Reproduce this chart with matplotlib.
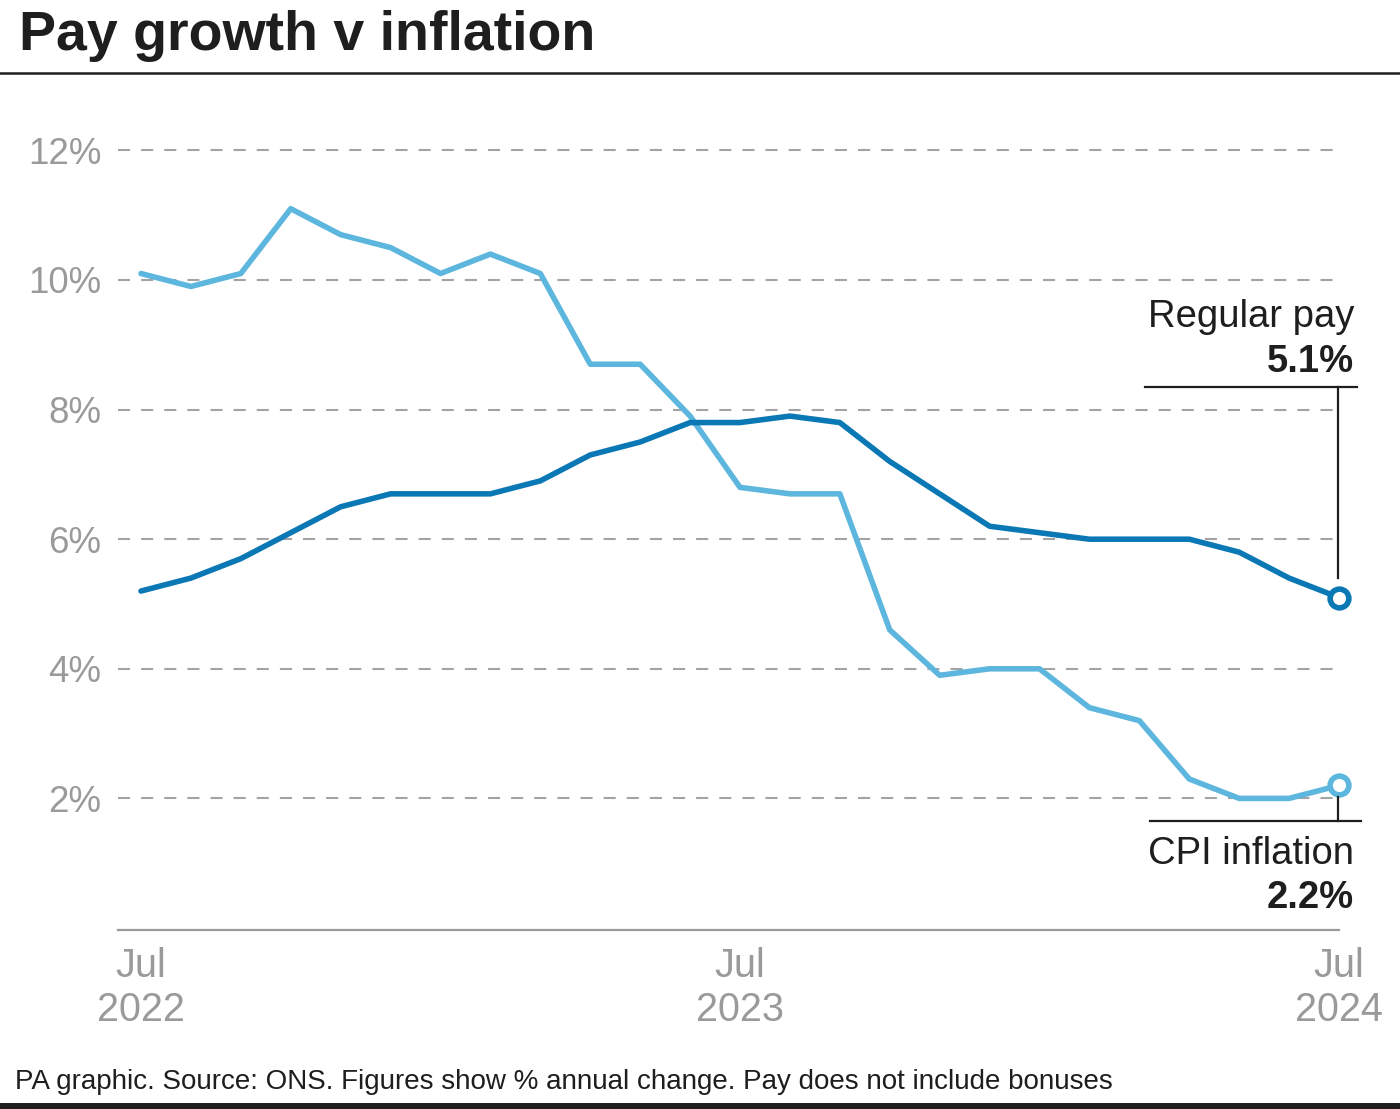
import matplotlib
matplotlib.use("Agg")
import matplotlib.pyplot as plt
from matplotlib.lines import Line2D

plt.rcParams['font.family'] = ['Liberation Sans', 'DejaVu Sans']

months = list(range(25))  # Jul 2022 .. Jul 2024
cpi = [10.1, 9.9, 10.1, 11.1, 10.7, 10.5, 10.1, 10.4, 10.1, 8.7, 8.7, 7.9,
       6.8, 6.7, 6.7, 4.6, 3.9, 4.0, 4.0, 3.4, 3.2, 2.3, 2.0, 2.0, 2.2]
pay = [5.2, 5.4, 5.7, 6.1, 6.5, 6.7, 6.7, 6.7, 6.9, 7.3, 7.5, 7.8,
       7.8, 7.9, 7.8, 7.2, 6.7, 6.2, 6.1, 6.0, 6.0, 6.0, 5.8, 5.4, 5.1]
y_ticks = [2, 4, 6, 8, 10, 12]
y_labels = ["2%", "4%", "6%", "8%", "10%", "12%"]
x_ticks = [0, 12, 24]
x_labels = ["Jul\n2022", "Jul\n2023", "Jul\n2024"]

PAY_C = "#0a78b4"
CPI_C = "#5cb6de"
GRAY = "#9a9a9a"
DARK = "#1e1e1e"

W, H = 1400, 1109
fig = plt.figure(figsize=(W / 100, H / 100), dpi=100)

def fx(px):
    return px / W

def fy(py):
    return 1 - py / H

# axes placement
ax_l, ax_r, ax_t, ax_b = 118, 1345, 140, 928
ax = fig.add_axes([fx(ax_l), fy(ax_b), (ax_r - ax_l) / W, (ax_b - ax_t) / H])
px_per_month = (1339 - 141) / 24
xmin = (ax_l - 141) / px_per_month
xmax = (ax_r - 141) / px_per_month
px_per_pct = (798 - 150) / 10
ymax = (ax_b - ax_t) / px_per_pct
ax.set_xlim(xmin, xmax)
ax.set_ylim(0, ymax)
for s in ax.spines.values():
    s.set_visible(False)

# gridlines
for yt in y_ticks:
    ax.plot([xmin, 24.02], [yt, yt], color="#a3a3a3", lw=1.5, dashes=(5.8, 5.3), zorder=1)
# baseline
ax.plot([xmin, 24], [0 - 2 / px_per_pct, 0 - 2 / px_per_pct], color=GRAY, lw=1.6,
        zorder=1, clip_on=False)

ax.plot(months, cpi, color=CPI_C, lw=4.0, zorder=3, solid_joinstyle='round',
        solid_capstyle='round')
ax.plot(months, pay, color=PAY_C, lw=4.0, zorder=3, solid_joinstyle='round',
        solid_capstyle='round')
ax.plot([months[-1]], [cpi[-1]], marker='o', ms=13.5, mfc='white', mec=CPI_C, mew=4,
        zorder=5, clip_on=False)
ax.plot([months[-1]], [pay[-1]], marker='o', ms=13.5, mfc='white', mec=PAY_C, mew=4,
        zorder=5, clip_on=False)

ax.set_yticks(y_ticks)
ax.set_yticklabels(y_labels)
ax.set_xticks(x_ticks)
ax.set_xticklabels(x_labels, linespacing=1.2)
ax.tick_params(axis='y', length=0, pad=12, labelsize=26.5, labelcolor=GRAY)
ax.tick_params(axis='x', length=0, pad=14, labelsize=28.5, labelcolor=GRAY)

# annotations (figure pixel coords)
def fline(x0, y0, x1, y1, **kw):
    fig.add_artist(Line2D([fx(x0), fx(x1)], [fy(y0), fy(y1)], **kw))

fline(1145, 387, 1357, 387, color=DARK, lw=1.6)
fline(1338, 387, 1338, 578, color=DARK, lw=1.6)
fline(1150, 821, 1361, 821, color=DARK, lw=1.6)
fline(1338, 797, 1338, 821, color=DARK, lw=1.6)

fig.text(fx(1354), fy(327), "Regular pay", ha='right', va='baseline', fontsize=27.5, color=DARK)
fig.text(fx(1354), fy(372), "5.1%", ha='right', va='baseline', fontsize=27.5,
         fontweight='bold', color=DARK)
fig.text(fx(1354), fy(864), "CPI inflation", ha='right', va='baseline', fontsize=27.5, color=DARK)
fig.text(fx(1354), fy(908), "2.2%", ha='right', va='baseline', fontsize=27.5,
         fontweight='bold', color=DARK)

# title and rules
fig.text(fx(19), fy(50), "Pay growth v inflation", ha='left', va='baseline',
         fontsize=40, fontweight='bold', color=DARK)
fline(0, 73, W, 73, color=DARK, lw=1.8)
fig.text(fx(15), fy(1089), "PA graphic. Source: ONS. Figures show % annual change. Pay does not include bonuses",
         ha='left', va='baseline', fontsize=20, color=DARK)
fig.add_artist(plt.Rectangle((0, 0), 1, 6 / H, transform=fig.transFigure,
                             color=DARK, lw=0))

fig.savefig("out.png", dpi=100)
